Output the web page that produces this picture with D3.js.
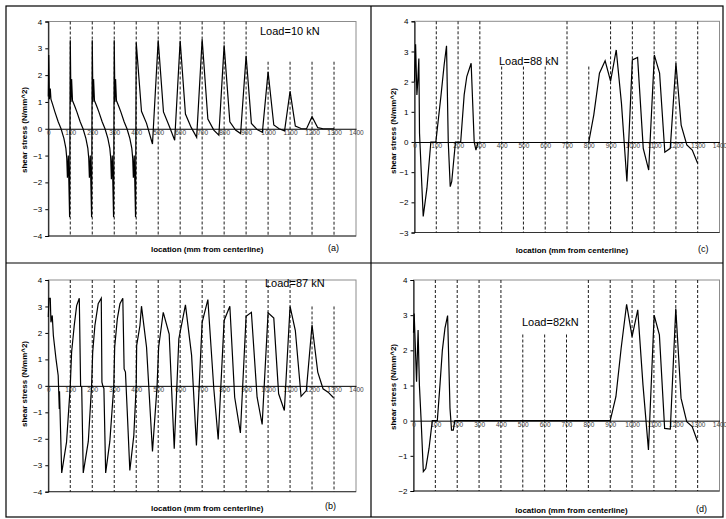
<!DOCTYPE html>
<html>
<head>
<meta charset="utf-8">
<script src="https://cdn.jsdelivr.net/npm/d3@7"></script>
<style>
  body { margin: 0; background: #fff; }
  svg { display: block; font-family: "Liberation Sans", Arial, sans-serif; }
</style>
</head>
<body>
<div id="chart"></div>
<script>
// tick labels
const xTicks = [0, 100, 200, 300, 400, 500, 600, 700, 800, 900, 1000, 1100, 1200, 1300, 1400];
const gridX = [100, 200, 300, 400, 500, 600, 700, 800, 900, 1000, 1100, 1200, 1300];

// (a) Load = 10 kN
const locA = [0, 2, 5, 9, 12, 20, 30, 45, 58, 71, 80, 84, 87, 91, 97,
  100, 103, 106, 110, 120, 130, 145, 158, 171, 180, 184, 187, 191, 197,
  200, 203, 206, 210, 220, 230, 245, 258, 271, 280, 284, 287, 291, 297,
  300, 303, 306, 310, 320, 330, 345, 358, 371, 380, 384, 387, 391, 397,
  400, 424, 447, 474, 500, 524, 550, 575, 600, 624, 650, 675, 700, 726, 753, 776,
  800, 826, 852, 875, 900, 924, 950, 974, 1000, 1026, 1050, 1075,
  1100, 1124, 1150, 1175, 1200, 1226, 1250, 1275, 1300];
const stressA = [1.2, 2.75, 1.1, 1.5, 1.1, 0.9, 0.63, 0.26, 0, -0.36, -0.73, -1.1, -1.83, -1.0, -3.3,
  3.3, 1.0, 1.85, 1.05, 0.85, 0.63, 0.26, 0, -0.36, -0.73, -1.1, -1.83, -1.0, -3.3,
  3.3, 1.0, 1.85, 1.05, 0.85, 0.63, 0.26, 0, -0.36, -0.73, -1.1, -1.88, -1.0, -3.3,
  3.3, 1.0, 1.85, 1.05, 0.85, 0.63, 0.26, 0, -0.36, -0.73, -1.1, -1.83, -1.0, -3.3,
  3.22, 0.65, 0.2, -0.57, 3.3, 0.63, 0.1, -0.43, 3.28, 0.55, 0.05, -0.32, 3.34, 0.36, -0.05, -0.24,
  3.11, 0.26, -0.05, -0.18, 2.72, 0.2, -0.03, -0.13, 2.12, 0.14, 0, -0.08,
  1.4, 0.1, 0.01, 0, 0.45, 0.04, 0, 0, 0];

// (b) Load = 87 kN
const locB = [0, 3, 9, 12, 18, 23, 35, 45, 50, 51, 61, 83, 100, 106, 118, 129, 141, 147, 152, 159,
  182, 197, 202, 212, 227, 241, 244, 248, 253, 261,
  280, 298, 302, 314, 326, 339, 345, 351, 359, 371, 389, 400, 402, 417, 424, 447, 474,
  495, 502, 523, 550, 573, 594, 624, 652, 674, 700, 726, 753, 773, 800, 826, 848, 874,
  900, 924, 950, 973, 1000, 1026, 1048, 1074, 1100, 1124, 1150, 1174, 1200, 1226, 1250, 1273, 1298];
const stressB = [2.6, 3.31, 3.31, 2.4, 2.66, 1.9, 1.02, 0.39, -0.87, -0.2, -3.29, -2.13, 0, 1.27, 2.28, 3.03, 3.31, 0, -0.05, -3.29,
  -2.1, 0, 1.27, 2.28, 3.1, 3.31, 0.14, 0, -0.1, -3.29,
  -2.1, 0, 1.46, 2.53, 3.1, 3.31, 0.64, 0.52, -0.93, -3.2, -1.88, 0, 1.52, 2.28, 3.01, 1.46, -2.48,
  0, 1.46, 2.78, 1.96, -2.38, 1.78, 3.06, 1.15, -2.25, 2.4, 3.26, -0.1, -2.03, 2.47, 3.01, -0.43, -1.78,
  2.63, 2.78, -0.43, -1.46, 2.76, 2.56, -0.3, -0.93, 3.0, 2.09, -0.4, -0.18, 2.3, 0.52, -0.11, -0.24, -0.45];

// (c) Load = 88 kN  (null = no reading)
const locC = [0, 5, 11, 15, 20, 23, 40, 57, 75, 98, 121, 136, 147, 155, 164, 171, 188, 212, 228, 240, 260, 274, 282, 292,
  500,
  800, 823, 849, 875, 900, 926, 950, 975, 1000, 1024, 1050, 1075, 1101, 1125, 1149, 1174, 1200, 1224, 1250, 1275, 1300];
const stressC = [2.0, 3.24, 1.56, 2.0, 2.77, 0.3, -2.47, -1.54, 0, 0, 1.5, 2.55, 3.19, 0, -1.48, -1.31, 0, 0, 1.56, 2.17, 2.61, 0, -0.27, 0,
  null,
  0, 0.9, 2.28, 2.69, 2.02, 3.05, 1.28, -1.31, 2.72, 2.8, -0.21, -0.93, 2.88, 2.28, -0.34, -0.21, 2.61, 0.56, -0.1, -0.27, -0.71];

// (d) Load = 82 kN
const locD = [0, 3, 14, 21, 27, 35, 45, 56, 71, 86, 109, 121, 132, 144, 156, 167, 174, 182, 189,
  900, 926, 950, 975, 1000, 1026, 1050, 1075, 1101, 1125, 1149, 1175, 1200, 1224, 1250, 1275, 1300];
const stressD = [2.5, 3.05, 1.11, 2.58, 1.01, 0, -1.45, -1.36, -0.79, 0, 0, 1.01, 2.0, 2.63, 2.99, 0.35, -0.27, -0.27, 0,
  0, 0.68, 2.06, 3.31, 2.39, 3.15, 1.01, -0.83, 3.0, 2.44, -0.22, -0.24, 3.19, 0.64, -0.03, -0.17, -0.6];

// top of each dashed line (value units), where a label box covers it
const gridTopA = [4, 4, 4, 4, 4, 4, 4, 4, 4, 2.5, 2.5, 2.5, 2.5];
const gridTopB = [4, 4, 4, 4, 4, 4, 4, 4, 4, 4, 4, 3.0, 3.0];
const gridTopC = [4, 4, 4, 2.5, 2.5, 2.5, 4, 2.5, 4, 4, 4, 4, 4];
const gridTopD = [4, 4, 4, 4, 2.45, 2.45, 2.45, 4, 4, 4, 4, 4, 4];

const width = 726, height = 519;

const svg = d3.select("#chart").append("svg")
  .attr("width", width)
  .attr("height", height);

// frame and dividers
svg.append("rect")
  .attr("x", 6).attr("y", 6).attr("width", 717).attr("height", 511)
  .attr("fill", "none").attr("stroke", "#000").attr("stroke-width", 1.2);
svg.append("line").attr("x1", 371).attr("x2", 371).attr("y1", 6).attr("y2", 517)
  .attr("stroke", "#000").attr("stroke-width", 1.2);
svg.append("line").attr("x1", 6).attr("x2", 723).attr("y1", 263).attr("y2", 263)
  .attr("stroke", "#000").attr("stroke-width", 1.2);

const panels = [
  { loc: locA, val: stressA, top: gridTopA, yMin: -4, x0: 48.3, x1: 356, yT: 21.5, yB: 236,
    load: "Load=10 kN", lx: 260, ly: 35, tag: "(a)", tx: 328, ty: 251, xtY: 252, ytX: 26.5, ytY: 130 },
  { loc: locB, val: stressB, top: gridTopB, yMin: -4, x0: 48.3, x1: 356, yT: 280, yB: 491.7,
    load: "Load=87 kN", lx: 265, ly: 287, tag: "(b)", tx: 325, ty: 509, xtY: 511, ytX: 26.5, ytY: 384 },
  { loc: locC, val: stressC, top: gridTopC, yMin: -3, x0: 414.5, x1: 719.5, yT: 21.3, yB: 232.5,
    load: "Load=88 kN", lx: 499, ly: 64.5, tag: "(c)", tx: 698, ty: 252, xtY: 253, ytX: 395.5, ytY: 131 },
  { loc: locD, val: stressD, top: gridTopD, yMin: -2, x0: 413.5, x1: 719.5, yT: 280, yB: 491,
    load: "Load=82kN", lx: 522, ly: 325.5, tag: "(d)", tx: 696, ty: 512, xtY: 513, ytX: 395.5, ytY: 387 }
];

panels.forEach(p => {
  const x = d3.scaleLinear().domain([0, 1400]).range([p.x0, p.x1]);
  const y = d3.scaleLinear().domain([p.yMin, 4]).range([p.yB, p.yT]);
  const g = svg.append("g");

  // plot area border
  g.append("rect")
    .attr("x", p.x0).attr("y", p.yT)
    .attr("width", p.x1 - p.x0).attr("height", p.yB - p.yT)
    .attr("fill", "none").attr("stroke", "#8c8c8c").attr("stroke-width", 1);
  g.append("line")
    .attr("x1", p.x0).attr("x2", p.x1).attr("y1", p.yB).attr("y2", p.yB)
    .attr("stroke", "#333").attr("stroke-width", 1);

  // dashed verticals
  g.selectAll(".grid")
    .data(gridX)
    .enter()
    .append("line")
    .attr("x1", d => x(d)).attr("x2", d => x(d))
    .attr("y1", (d, i) => y(p.top[i])).attr("y2", p.yB)
    .attr("stroke", "#000").attr("stroke-width", 0.9)
    .attr("stroke-dasharray", "3,2");

  // y axis
  const yAxis = d3.axisLeft(y).ticks(4 - p.yMin).tickSize(3).tickPadding(3).tickFormat(d3.format("d"));
  const ya = g.append("g").attr("transform", `translate(${p.x0},0)`).call(yAxis);
  ya.select(".domain").attr("stroke", "#000");
  ya.selectAll(".tick line").attr("stroke", "#000");
  ya.selectAll("text").attr("font-size", 8).attr("fill", "#000");

  // x axis along zero
  const xAxis = d3.axisBottom(x).tickValues(xTicks).tickSize(0).tickPadding(1.5).tickFormat(d3.format("d"));
  const xa = g.append("g").attr("transform", `translate(0,${y(0)})`).call(xAxis);
  xa.select(".domain").attr("stroke", "#000").attr("stroke-width", 1);
  xa.selectAll("text").attr("font-size", 6.5).attr("fill", "#444");

  // data line
  const line = d3.line()
    .defined(d => d[1] !== null)
    .x(d => x(d[0]))
    .y(d => y(d[1]));
  g.append("path")
    .datum(p.loc.map((v, i) => [v, p.val[i]]))
    .attr("d", line)
    .attr("fill", "none")
    .attr("stroke", "#000")
    .attr("stroke-width", 1.2)
    .attr("stroke-linejoin", "miter");

  // texts
  g.append("text")
    .attr("x", p.lx).attr("y", p.ly)
    .attr("font-size", 11)
    .text(p.load);
  g.append("text")
    .attr("x", p.tx).attr("y", p.ty)
    .attr("font-size", 9)
    .text(p.tag);
  g.append("text")
    .attr("x", (p.x0 + p.x1) / 2 + 5).attr("y", p.xtY)
    .attr("text-anchor", "middle")
    .attr("font-size", 8).attr("font-weight", "bold")
    .text("location (mm from centerline)");
  g.append("text")
    .attr("transform", `translate(${p.ytX},${p.ytY}) rotate(-90)`)
    .attr("text-anchor", "middle")
    .attr("font-size", 8).attr("font-weight", "bold")
    .text("shear stress (N/mm^2)");
});
</script>
</body>
</html>
